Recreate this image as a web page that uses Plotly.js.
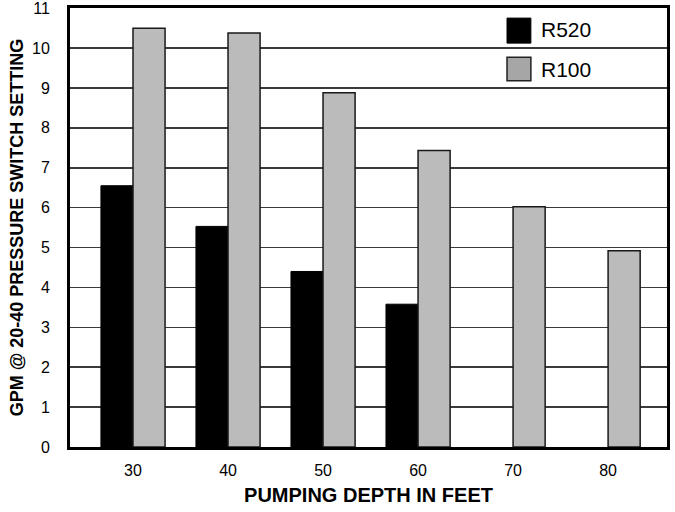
<!DOCTYPE html>
<html>
<head>
<meta charset="utf-8">
<script src="https://cdn.plot.ly/plotly-3.0.1.min.js"></script>
<style>html,body{margin:0;padding:0;background:#fff;}#chart{width:675px;height:512px;}</style>
</head>
<body>
<div id="chart"></div>
<script>
var depths = [30, 40, 50, 60, 70, 80];
var r520 = [6.55, 5.53, 4.4, 3.58, null, null];
var r100 = [10.5, 10.38, 8.88, 7.43, 6.02, 4.92];
var yTicks = [0, 1, 2, 3, 4, 5, 6, 7, 8, 9, 10, 11];
var yTickText = ['0', '1', '2', '3', '4', '5', '6', '7', '8', '9', '10', '11'];
var seriesNames = ['R520', 'R100'];

var traces = [
  {type: 'bar', x: depths, y: r520, name: seriesNames[0], showlegend: false,
   marker: {color: '#000000', line: {color: '#000000', width: 1}}},
  {type: 'bar', x: depths, y: r100, name: seriesNames[1], showlegend: false,
   marker: {color: '#bbbbbb', line: {color: '#1a1a1a', width: 1.5}}}
];

var layout = {
  width: 675, height: 512,
  margin: {l: 70, r: 8, t: 8, b: 65},
  paper_bgcolor: '#ffffff', plot_bgcolor: '#ffffff',
  barmode: 'group', bargap: 0.325, bargroupgap: 0,
  font: {family: 'Liberation Sans, Arial, sans-serif', color: '#000'},
  xaxis: {
    range: [23.37, 86.2], tickvals: depths, ticktext: depths.map(String),
    showgrid: false, zeroline: false, ticks: '',
    showline: true, linecolor: '#000', linewidth: 3, mirror: true,
    tickfont: {size: 16}, ticklabelstandoff: 7,
    title: {text: '<b>PUMPING DEPTH IN FEET</b>', font: {size: 20}, standoff: 10}
  },
  yaxis: {
    range: [0, 11.005], tickvals: yTicks, ticktext: yTickText,
    showgrid: true, gridcolor: '#3a3a3a', gridwidth: 1.5, zeroline: false, ticks: '',
    showline: true, linecolor: '#000', linewidth: 3, mirror: true,
    tickfont: {size: 16}, ticklabelstandoff: 14, ticklabeloverflow: 'allow',
    title: {text: '<b>GPM @ 20-40 PRESSURE SWITCH SETTING</b>', font: {size: 18}, standoff: 4}
  },
  shapes: [
    {type: 'rect', xref: 'paper', yref: 'paper', x0: 0.732, x1: 0.772, y0: 0.920, y1: 0.977,
     fillcolor: '#000', line: {color: '#000', width: 1}},
    {type: 'rect', xref: 'paper', yref: 'paper', x0: 0.732, x1: 0.772, y0: 0.834, y1: 0.888,
     fillcolor: '#a6a6a6', line: {color: '#222', width: 1.5}}
  ],
  annotations: [
    {xref: 'paper', yref: 'paper', x: 0.785, y: 0.950, xanchor: 'left', yanchor: 'middle',
     text: seriesNames[0], showarrow: false, font: {size: 21, color: '#000'}},
    {xref: 'paper', yref: 'paper', x: 0.785, y: 0.861, xanchor: 'left', yanchor: 'middle',
     text: seriesNames[1], showarrow: false, font: {size: 21, color: '#000'}}
  ]
};

Plotly.newPlot('chart', traces, layout, {displayModeBar: false, staticPlot: true});
</script>
</body>
</html>
